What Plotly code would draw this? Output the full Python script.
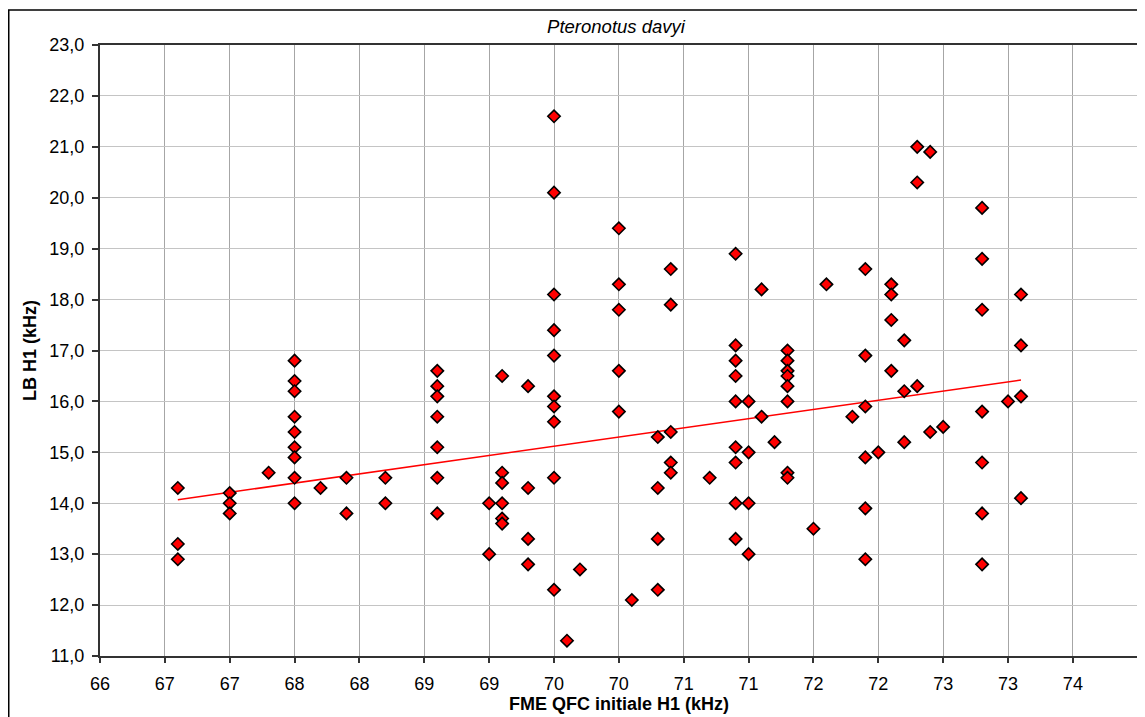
import plotly.graph_objects as go

# ---- data ----
fme_qfc_khz = (
    [66.6] * 3 + [67.0] * 3 + [67.3] + [67.5] * 9 + [67.7] + [67.9] * 2 + [68.2] * 2 +
    [68.6] * 7 + [69.0] * 2 + [69.1] * 6 + [69.3] * 4 + [69.5] * 10 + [69.6] + [69.7] +
    [70.0] * 5 + [70.1] + [70.3] * 4 + [70.4] * 5 + [70.7] + [70.9] * 9 + [71.0] * 4 +
    [71.1] * 2 + [71.2] + [71.3] * 8 + [71.5] + [71.6] + [71.8] + [71.9] * 6 + [72.0] +
    [72.1] * 4 + [72.2] * 3 + [72.3] * 3 + [72.4] * 2 + [72.5] + [72.8] * 7 + [73.0] +
    [73.1] * 4
)
lb_h1_khz = [
    14.3, 13.2, 12.9,
    14.2, 14.0, 13.8,
    14.6,
    16.8, 16.4, 16.2, 15.7, 15.4, 15.1, 14.9, 14.5, 14.0,
    14.3,
    14.5, 13.8,
    14.5, 14.0,
    16.6, 16.3, 16.1, 15.7, 15.1, 14.5, 13.8,
    14.0, 13.0,
    16.5, 14.6, 14.4, 14.0, 13.7, 13.6,
    16.3, 14.3, 13.3, 12.8,
    21.6, 20.1, 18.1, 17.4, 16.9, 16.1, 15.9, 15.6, 14.5, 12.3,
    11.3,
    12.7,
    19.4, 18.3, 17.8, 16.6, 15.8,
    12.1,
    15.3, 14.3, 13.3, 12.3,
    18.6, 17.9, 15.4, 14.8, 14.6,
    14.5,
    18.9, 17.1, 16.8, 16.5, 16.0, 15.1, 14.8, 14.0, 13.3,
    16.0, 15.0, 14.0, 13.0,
    18.2, 15.7,
    15.2,
    17.0, 16.8, 16.6, 16.5, 16.3, 16.0, 14.6, 14.5,
    13.5,
    18.3,
    15.7,
    18.6, 16.9, 15.9, 14.9, 13.9, 12.9,
    15.0,
    18.3, 18.1, 17.6, 16.6,
    17.2, 16.2, 15.2,
    21.0, 20.3, 16.3,
    20.9, 15.4,
    15.5,
    19.8, 18.8, 17.8, 15.8, 14.8, 13.8, 12.8,
    16.0,
    18.1, 17.1, 16.1, 14.1,
]

# linear trend line endpoints as drawn in the reference (Excel trendline)
trend_x = [66.6, 73.1]
trend_y = [14.07, 16.42]

x_tick_vals = [66, 66.5, 67, 67.5, 68, 68.5, 69, 69.5, 70, 70.5, 71, 71.5, 72, 72.5, 73, 73.5, 74]
x_tick_text = ["66", "67", "67", "68", "68", "69", "69", "70", "70", "71", "71", "72", "72", "73", "73", "74", "74"]
y_tick_vals = [11, 12, 13, 14, 15, 16, 17, 18, 19, 20, 21, 22, 23]
y_tick_text = ["11,0", "12,0", "13,0", "14,0", "15,0", "16,0", "17,0", "18,0", "19,0", "20,0", "21,0", "22,0", "23,0"]

FONT = "Liberation Sans, Arial, Helvetica, sans-serif"

fig = go.Figure()
fig.add_trace(go.Scatter(
    x=trend_x, y=trend_y, mode="lines",
    line=dict(color="#ff0000", width=1.5),
    hoverinfo="skip", showlegend=False,
))
fig.add_trace(go.Scatter(
    x=fme_qfc_khz, y=lb_h1_khz, mode="markers",
    marker=dict(symbol="diamond", size=9.5, color="#ff0000",
                line=dict(color="#000000", width=1.6)),
    showlegend=False,
))

# the page body has an 8px margin; the figure fills the rest of the window
W, H = 1137, 709
L, R, T, B = 92, 7, 37, 61
pw = W - L - R
ph = H - T - B

fig.update_layout(
    width=W, height=H,
    margin=dict(l=L, r=R, t=T, b=B, autoexpand=False),
    paper_bgcolor="#ffffff", plot_bgcolor="#ffffff",
    font=dict(family=FONT, size=18, color="#000000"),
    title=dict(text="<i>Pteronotus davyi</i>", x=(L + pw / 2) / W - 3 / W, xanchor="center",
               y=1 - 19 / H, yanchor="middle", yref="container",
               font=dict(family=FONT, size=18.5, color="#000000")),
    xaxis=dict(
        range=[66, 74.002], tickmode="array", tickvals=x_tick_vals, ticktext=x_tick_text,
        showgrid=True, gridcolor="#a6a6a6", gridwidth=1,
        showline=True, linecolor="#333333", linewidth=2, mirror=True,
        ticks="outside", ticklen=5, tickcolor="#333333", tickwidth=1.5,
        ticklabelstandoff=5,
        zeroline=False,
        title=dict(text="<b>FME QFC initiale H1 (kHz)</b>", standoff=5,
                   font=dict(family=FONT, size=18)),
        tickfont=dict(family=FONT, size=18),
    ),
    yaxis=dict(
        range=[11, 23], tickmode="array", tickvals=y_tick_vals, ticktext=y_tick_text,
        showgrid=True, gridcolor="#c4c4c4", gridwidth=1.3,
        showline=True, linecolor="#333333", linewidth=2, mirror=True,
        ticks="outside", ticklen=6, tickcolor="#333333", tickwidth=1.5,
        ticklabelstandoff=4,
        zeroline=False,
        title=dict(text="<b>LB H1 (kHz)</b>", standoff=8,
                   font=dict(family=FONT, size=18)),
        tickfont=dict(family=FONT, size=18),
    ),
    shapes=[dict(
        type="rect", xref="paper", yref="paper",
        x0=(0.75 - L) / pw, x1=1 + 20 / pw,
        y0=-(B + 20) / ph, y1=1 + (T - 2) / ph,
        line=dict(color="#000000", width=1.5), fillcolor="rgba(0,0,0,0)",
        layer="below",
    )],
)

fig.write_html("out.html")
